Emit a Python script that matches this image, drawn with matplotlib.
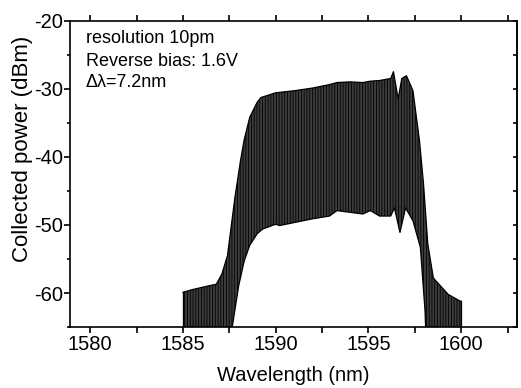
import matplotlib
matplotlib.use("Agg")
import matplotlib.pyplot as plt
import numpy as np
from matplotlib.ticker import MultipleLocator

plt.rcParams['font.family'] = ['Liberation Sans', 'DejaVu Sans']
plt.rcParams['axes.unicode_minus'] = False
plt.rcParams['hatch.linewidth'] = 0.6

# Upper envelope of the fringe pattern (nm, dBm)
upper_wl = [1585.0, 1585.5, 1586.3, 1586.8, 1587.1, 1587.4, 1587.8, 1588.1, 1588.3,
            1588.6, 1589.0, 1589.2, 1590.0, 1591.0, 1592.0, 1592.9, 1593.3, 1594.0,
            1594.7, 1595.1, 1595.6, 1596.2, 1596.35, 1596.6, 1596.8, 1597.05, 1597.4,
            1597.75, 1597.97, 1598.2, 1598.5, 1599.3, 1599.95, 1600.0]
upper_db = [-59.9, -59.5, -59.0, -58.7, -57.2, -54.5, -46.0, -40.6, -37.5,
            -34.2, -32.0, -31.3, -30.6, -30.3, -29.9, -29.4, -29.1, -29.0,
            -29.1, -28.9, -28.8, -28.5, -27.5, -31.5, -28.5, -28.1, -30.3,
            -37.6, -44.0, -52.8, -57.8, -60.2, -61.2, -61.2]

# Lower envelope of the fringe pattern (nm, dBm); below -65 is off-axis
lower_wl = [1585.0, 1587.6, 1588.0, 1588.3, 1588.6, 1589.0, 1589.3, 1590.0, 1590.2,
            1592.0, 1592.9, 1593.3, 1594.7, 1595.1, 1595.6, 1596.2, 1596.4, 1596.7,
            1597.0, 1597.4, 1597.8, 1598.05, 1598.15, 1600.0]
lower_db = [-70.0, -66.0, -59.0, -55.3, -53.0, -51.3, -50.6, -49.9, -50.1,
            -49.1, -48.7, -47.9, -48.4, -47.9, -48.7, -48.7, -47.5, -51.1,
            -47.5, -49.4, -53.3, -62.6, -70.0, -70.0]

notes = ["resolution 10pm", "Reverse bias: 1.6V", "\u0394\u03bb=7.2nm"]

fig = plt.figure(figsize=(5.21, 3.88), dpi=100)
ax = fig.add_axes([0.134, 0.157, 0.858, 0.790])

grid = np.union1d(upper_wl, lower_wl)
up = np.interp(grid, upper_wl, upper_db)
lo = np.interp(grid, lower_wl, lower_db)
ax.fill_between(grid, lo, up, facecolor='#3c3c3c', edgecolor='black',
                hatch='||||||', linewidth=0)
ax.plot(upper_wl, upper_db, color='black', lw=0.9)
ax.plot(lower_wl, lower_db, color='black', lw=0.9)
ax.plot([upper_wl[0]] * 2, [lower_db[0], upper_db[0]], color='black', lw=0.9)
ax.plot([upper_wl[-1]] * 2, [lower_db[-1], upper_db[-1]], color='black', lw=0.9)

ax.set_xlim(1578.9, 1603.0)
ax.set_ylim(-65, -20)
ax.xaxis.set_major_locator(MultipleLocator(5))
ax.xaxis.set_minor_locator(MultipleLocator(2.5))
ax.yaxis.set_major_locator(MultipleLocator(10))
ax.yaxis.set_minor_locator(MultipleLocator(5))

for s in ax.spines.values():
    s.set_linewidth(1.2)

ax.tick_params(axis='x', which='both', direction='out', top=True,
               width=1.2, pad=2, length=4, labelsize=14.5)
ax.tick_params(axis='y', which='both', direction='out', width=1.2, pad=1, labelsize=14.5)
ax.tick_params(axis='y', which='major', length=4)
ax.tick_params(axis='y', which='minor', length=2.5)

sec = ax.secondary_yaxis('right')
sec.yaxis.set_major_locator(MultipleLocator(5))
sec.tick_params(direction='in', length=3, width=1.2, labelright=False)
sec.spines['right'].set_linewidth(1.2)

ax.set_xlabel("Wavelength (nm)", fontsize=14.5)
ax.set_ylabel("Collected power (dBm)", fontsize=16)
ax.xaxis.set_label_coords(0.50, -0.128)
ax.yaxis.set_label_coords(-0.083, 0.58)

for txt, yy in zip(notes, [0.941, 0.866, 0.798]):
    ax.text(0.036, yy, txt, transform=ax.transAxes, fontsize=13, va='center', ha='left')

fig.savefig("out.png", dpi=100)
